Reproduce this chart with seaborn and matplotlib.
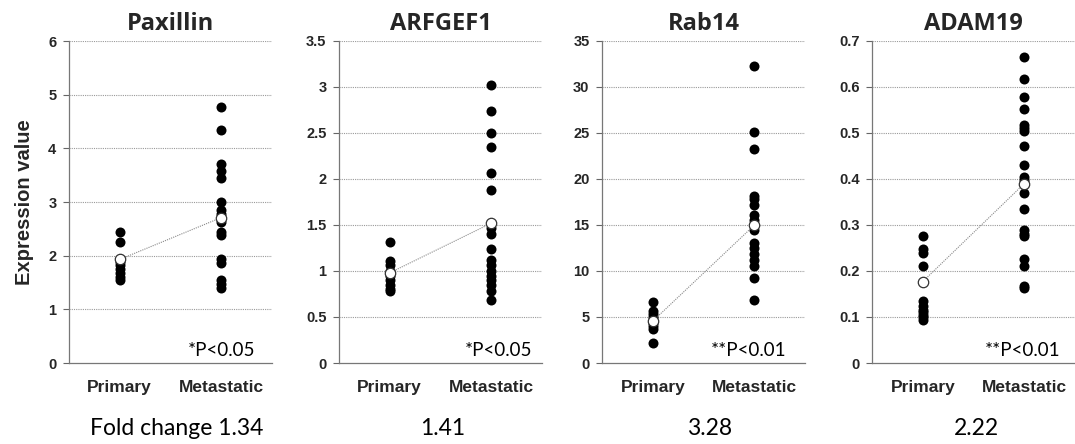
import numpy as np
import pandas as pd
import matplotlib
matplotlib.use("Agg")
import matplotlib.pyplot as plt
import seaborn as sns

# ---------------- data ----------------
genes = ["Paxillin", "ARFGEF1", "Rab14", "ADAM19"]
groups = ["Primary", "Metastatic"]

pax_primary = [2.45, 2.25, 1.93, 1.88, 1.82, 1.75, 1.68, 1.60, 1.55]
pax_metastatic = [4.77, 4.35, 3.70, 3.57, 3.45, 3.00, 2.85, 2.78, 2.62, 2.45, 2.38,
                  1.93, 1.87, 1.55, 1.47, 1.40]
arf_primary = [1.32, 1.11, 1.06, 1.00, 0.95, 0.90, 0.85, 0.80, 0.78]
arf_metastatic = [3.02, 2.74, 2.50, 2.35, 2.06, 1.88, 1.47, 1.40, 1.24, 1.12, 1.06,
                  1.00, 0.95, 0.90, 0.85, 0.78, 0.68]
rab_primary = [6.6, 5.7, 5.3, 5.0, 4.6, 4.3, 4.0, 3.7, 2.2]
rab_metastatic = [32.3, 25.1, 23.3, 18.1, 17.8, 17.2, 16.1, 15.5, 14.5, 13.0, 12.5,
                  11.8, 11.2, 10.5, 9.2, 6.8]
adam_primary = [0.275, 0.248, 0.240, 0.210, 0.135, 0.125, 0.115, 0.110, 0.105,
                0.100, 0.093]
adam_metastatic = [0.665, 0.617, 0.578, 0.553, 0.518, 0.510, 0.505, 0.471, 0.430,
                   0.405, 0.397, 0.390, 0.370, 0.335, 0.290, 0.280, 0.275, 0.227,
                   0.210, 0.168, 0.162]

pax_means = [1.93, 2.71]
arf_means = [0.98, 1.52]
rab_means = [4.55, 14.98]
adam_means = [0.177, 0.390]

pax_ticks = [0, 1, 2, 3, 4, 5, 6]
arf_ticks = [0, 0.5, 1, 1.5, 2, 2.5, 3, 3.5]
rab_ticks = [0, 5, 10, 15, 20, 25, 30, 35]
adam_ticks = [0, 0.1, 0.2, 0.3, 0.4, 0.5, 0.6, 0.7]

p_labels = ["*P<0.05", "*P<0.05", "**P<0.01", "**P<0.01"]
fold_labels = ["Fold change 1.34", "1.41", "3.28", "2.22"]

# ---------------- plotting ----------------
sns.set_theme(style="white")
plt.rcParams["font.family"] = ["Liberation Sans", "DejaVu Sans"]

fig = plt.figure(figsize=(10.75, 4.44), dpi=100)
W, H = 1075, 444
lefts = [69, 339, 602, 872]
ax_w = 203
ax_top, ax_bot = 41, 363

panels = [
    (pax_primary, pax_metastatic, pax_means, pax_ticks),
    (arf_primary, arf_metastatic, arf_means, arf_ticks),
    (rab_primary, rab_metastatic, rab_means, rab_ticks),
    (adam_primary, adam_metastatic, adam_means, adam_ticks),
]
p_xpos = [0.92, 0.95, 0.91, 0.93]
fold_x = [177, 443, 710, 976]

for i, (prim, meta, means, ticks) in enumerate(panels):
    ax = fig.add_axes([lefts[i] / W, 1 - ax_bot / H, ax_w / W, (ax_bot - ax_top) / H])
    df = pd.DataFrame({
        "group": [groups[0]] * len(prim) + [groups[1]] * len(meta),
        "value": list(prim) + list(meta),
    })
    mdf = pd.DataFrame({"group": groups, "value": means})

    # gridlines
    for t in ticks[1:]:
        ax.axhline(t, color="#9a9a9a", lw=0.8, ls=(0, (1, 1)), zorder=0)

    sns.stripplot(data=df, x="group", y="value", order=groups, color="black",
                  jitter=False, size=7.2, linewidth=0, ax=ax, zorder=3)
    sns.pointplot(data=mdf, x="group", y="value", order=groups, color="#888888",
                  linestyles=(0, (1, 1)), markers="o", errorbar=None, ax=ax,
                  linewidth=0.8, markersize=7.5, markerfacecolor="white",
                  markeredgecolor="#333333", markeredgewidth=0.9, zorder=4)

    ax.set_xlim(-0.5, 1.5)
    ax.set_ylim(ticks[0], ticks[-1])
    ax.set_yticks(ticks)
    ax.set_yticklabels([f"{t:g}" for t in ticks], fontsize=10.5, fontweight="bold")
    ax.set_xticks([0, 1])
    ax.set_xticklabels(groups, fontsize=12.5, fontweight="bold")
    ax.tick_params(axis="y", which="major", direction="out", length=4, width=0.8,
                   color="#666666", pad=5, left=True)
    ax.tick_params(axis="x", length=0, pad=12)
    ax.set_xlabel("")
    if i == 0:
        ax.set_ylabel("Expression value", fontsize=14.5, fontweight="bold", labelpad=10)
    else:
        ax.set_ylabel("")
    for s in ["top", "right"]:
        ax.spines[s].set_visible(False)
    for s in ["left", "bottom"]:
        ax.spines[s].set_color("#777777")
        ax.spines[s].set_linewidth(0.9)
    ax.grid(False)

    ax.set_title(genes[i], fontsize=17, fontweight="bold",
                 family=["Open Sans", "DejaVu Sans"], pad=8)
    ax.text(p_xpos[i], 0.012, p_labels[i], transform=ax.transAxes, ha="right",
            va="bottom", fontsize=13.5, family=["Lato", "DejaVu Sans"], color="black")

    fig.text(fold_x[i] / W, 1 - 428 / H, fold_labels[i], ha="center", va="center",
             fontsize=16.5, family=["Lato", "DejaVu Sans"], color="black")

fig.savefig("out.png", dpi=100)
